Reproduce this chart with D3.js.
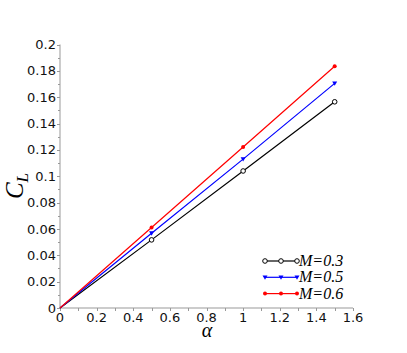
<!DOCTYPE html>
<html>
<head>
<meta charset="utf-8">
<script src="https://cdn.jsdelivr.net/npm/d3@7"></script>
<style>
  body { margin: 0; background: #fff; }
  svg { display: block; }
</style>
</head>
<body>
<svg id="chart"></svg>
<script>
// angle of attack and lift coefficient for three Mach numbers
var alpha = [0, 0.5, 1.0, 1.5];
var cl_m03 = [0, 0.0517, 0.104, 0.1565];
var cl_m05 = [0, 0.0568, 0.113, 0.1705];
var cl_m06 = [0, 0.0611, 0.1222, 0.1835];
var seriesNames = ["M=0.3", "M=0.5", "M=0.6"];
var xTicks = [0, 0.2, 0.4, 0.6, 0.8, 1, 1.2, 1.4, 1.6];
var yTicks = [0, 0.02, 0.04, 0.06, 0.08, 0.1, 0.12, 0.14, 0.16, 0.18, 0.2];

var W = 407, H = 353;
var svg = d3.select('#chart').attr('width', W).attr('height', H);

var x = d3.scaleLinear().domain([0, 1.6]).range([60, 353]);
var y = d3.scaleLinear().domain([0, 0.2]).range([308, 44.5]);

var axisColor = '#999';
var tickFont = '"DejaVu Sans", sans-serif';

// x axis
var xa = svg.append('g').attr('transform', 'translate(0,308)');
xa.append('line').attr('x1', x(0)).attr('x2', x(1.6)).attr('stroke', axisColor);
xa.selectAll('.minor').data(d3.range(0, 1.61, 0.1))
  .enter().append('line')
  .attr('x1', d => Math.round(x(d)) + 0.5).attr('x2', d => Math.round(x(d)) + 0.5)
  .attr('y1', 0).attr('y2', 3).attr('stroke', axisColor);
xa.selectAll('text').data(xTicks).enter().append('text')
  .attr('x', d => x(d)).attr('y', 14)
  .attr('text-anchor', 'middle')
  .style('font-family', tickFont).style('font-size', '13px').attr('fill', '#111')
  .text(d => d3.format('~g')(d));

// y axis
var ya = svg.append('g').attr('transform', 'translate(60,0)');
ya.append('line').attr('y1', y(0)).attr('y2', y(0.2)).attr('stroke', axisColor);
ya.selectAll('.minor').data(d3.range(0, 0.2001, 0.01))
  .enter().append('line')
  .attr('y1', d => Math.round(y(d)) + 0.5).attr('y2', d => Math.round(y(d)) + 0.5)
  .attr('x1', (d, i) => i % 2 ? -2 : -3).attr('x2', 0).attr('stroke', axisColor);
ya.selectAll('text').data(yTicks).enter().append('text')
  .attr('x', -4).attr('y', d => y(d)).attr('dy', '0.35em')
  .attr('text-anchor', 'end')
  .style('font-family', tickFont).style('font-size', '13px').attr('fill', '#111')
  .text(d => d3.format('~g')(d));

// axis titles
var serif = '"Liberation Serif", "Times New Roman", serif';
var yt = svg.append('text')
  .attr('transform', 'translate(23,186) rotate(-90)')
  .attr('text-anchor', 'middle')
  .style('font-family', serif).style('font-style', 'italic').style('font-size', '25px');
yt.append('tspan').text('C');
yt.append('tspan').attr('dy', 5).style('font-size', '17px').text('L');

svg.append('text')
  .attr('x', 207).attr('y', 337)
  .attr('text-anchor', 'middle')
  .style('font-family', serif).style('font-style', 'italic').style('font-size', '20px')
  .text('α');

var series = [
  { name: seriesNames[0], values: cl_m03, color: '#000000', marker: 'ocircle' },
  { name: seriesNames[1], values: cl_m05, color: '#0000ff', marker: 'tri' },
  { name: seriesNames[2], values: cl_m06, color: '#ff0000', marker: 'dot' }
];

var line = d3.line().x(d => x(d[0])).y(d => y(d[1]));

function drawMarker(g, cx, cy, s) {
  if (s.marker === 'ocircle') {
    g.append('circle').attr('cx', cx).attr('cy', cy).attr('r', 2.3)
      .attr('fill', '#fff').attr('stroke', s.color).attr('stroke-width', 1);
  } else if (s.marker === 'tri') {
    g.append('path')
      .attr('d', `M${cx - 2.5},${cy - 1.8}L${cx + 2.5},${cy - 1.8}L${cx},${cy + 2.5}Z`)
      .attr('fill', s.color);
  } else {
    g.append('circle').attr('cx', cx).attr('cy', cy).attr('r', 2)
      .attr('fill', s.color);
  }
}

var plot = svg.append('g');
series.forEach(function(s) {
  var pts = alpha.map((a, i) => [a, s.values[i]]);
  plot.append('path').attr('d', line(pts))
    .attr('fill', 'none').attr('stroke', s.color).attr('stroke-width', 1.2);
  var mg = plot.append('g');
  // the origin point carries no marker in the reference
  pts.filter(p => p[0] > 0).forEach(p => drawMarker(mg, x(p[0]), y(p[1]), s));
});

// legend
var legend = svg.append('g');
series.forEach(function(s, i) {
  var ly = 261 + i * 16.3;
  legend.append('line').attr('x1', 265).attr('x2', 297).attr('y1', ly).attr('y2', ly)
    .attr('stroke', s.color).attr('stroke-width', 1.2);
  [265, 281, 297].forEach(mx => drawMarker(legend, mx, ly, s));
  legend.append('text').attr('x', 299).attr('y', ly + 5)
    .style('font-family', serif).style('font-style', 'italic').style('font-size', '16px')
    .text(s.name);
});
</script>
</body>
</html>
